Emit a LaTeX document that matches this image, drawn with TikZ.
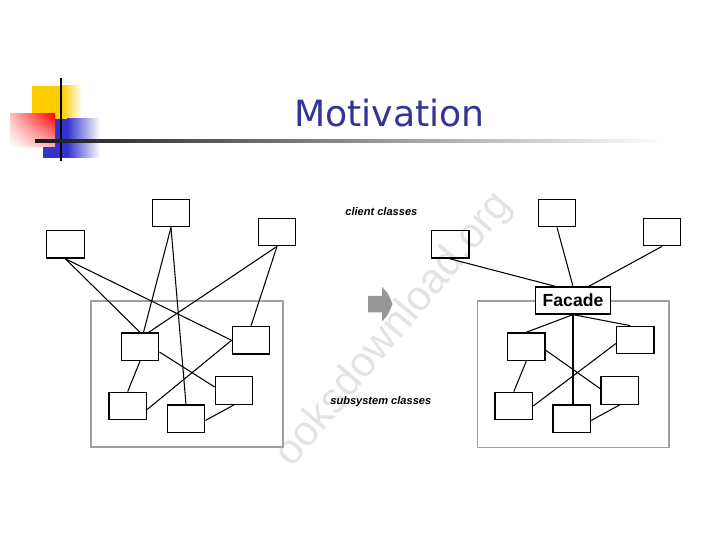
\documentclass[tikz,border=0pt]{standalone}
\usepackage{fontspec}
\usepackage{tikz}
\usetikzlibrary{shadings}
\newfontfamily\titlefont{DejaVu Sans}
\newfontfamily\labelfont{Liberation Sans}
\definecolor{titleblue}{RGB}{51,51,153}
\definecolor{logoyellow}{RGB}{255,204,0}
\definecolor{logoblue}{RGB}{51,51,204}
\definecolor{framegray}{RGB}{160,160,160}
\definecolor{arrowgray}{RGB}{150,150,150}

\begin{document}
\begin{tikzpicture}[x=0.02cm,y=-0.02cm,
    cls/.style={draw,line width=0.8pt,minimum width=21.3pt,minimum height=15.6pt,inner sep=0pt},
    link/.style={line width=0.6pt},
    frame/.style={draw=framegray,line width=0.6pt},
    caption/.style={font=\labelfont\bfseries\itshape\fontsize{6.3}{7}\selectfont,inner sep=0pt}]
        \useasboundingbox (0,0) rectangle (720,540);
        % watermark
        \node[rotate=50,text=black!11,font=\labelfont\fontsize{24}{28}\selectfont] (mark) at (394,330) {ooksdownload.org};
        % logo
        \fill[logoyellow] (32,86) rectangle (62,119);
        \shade[left color=logoyellow,right color=white] (62,86) rectangle (82,119);
        \fill[logoblue] (43,119) rectangle (67,158);
        \shade[left color=logoblue,right color=white] (67,119) rectangle (100,158);
        \shade[upper right=red,upper left=red!25,lower right=red!30,lower left=white] (10,114) rectangle (55,147);
        \draw[line width=1.4pt] (61,78) -- (61,161);
        \shade[left color=black!90,right color=white] (35,140) rectangle (665,143);
        \node[font=\titlefont\fontsize{20.6}{24}\selectfont,text=titleblue,anchor=base,inner sep=0pt] (title) at (389.5,126.7) {Motivation};

        % without facade
        \draw[frame] (91,301) rectangle (283,447);
        \node[cls] (cl1) at (65.5,244.5) {};
        \node[cls] (cl2) at (171,213) {};
        \node[cls] (cl3) at (277,232) {};
        \node[cls] (ss1) at (140,346.7) {};
        \node[cls] (ss2) at (251,340.3) {};
        \node[cls] (ss3) at (127.7,406) {};
        \node[cls] (ss4) at (186,418.7) {};
        \node[cls] (ss5) at (234,390.5) {};
        \draw[link] (cl1.south) -- (ss1.north);
        \draw[link] (cl1.south) -- (ss2.west);
        \draw[link] (cl2.south) -- ([xshift=2]ss1.north);
        \draw[link] (cl2.south) -- (ss4.north);
        \draw[link] (cl3.south) -- ([xshift=5]ss1.north);
        \draw[link] (cl3.south) -- (ss2.north);
        \draw[link] ([yshift=-3]ss1.east) -- ([yshift=2]ss5.west);
        \draw[link] (ss1.south) -- (ss3.north);
        \draw[link] (ss2.west) -- ([yshift=-2]ss3.east);
        \draw[link] (ss5.south) -- ([yshift=-1]ss4.east);

        % labels and arrow
        \node[caption,anchor=west] (client) at (345,211.5) {client classes};
        \node[caption,anchor=west] (subsys) at (330,401.5) {subsystem classes};
        \fill[arrowgray] (368,296) -- (382,296) -- (382,287) .. controls (388,293) .. (392.5,304)
            .. controls (388,315) .. (382,321.5) -- (382,312.5) -- (368,312.5) -- cycle;

        % with facade
        \draw[frame] (477.7,301) rectangle (669,447.3);
        \node[cls] (cr1) at (450.3,244.5) {};
        \node[cls] (cr2) at (557,213) {};
        \node[cls] (cr3) at (662,232) {};
        \node[draw,fill=white,line width=0.8pt,minimum width=43pt,minimum height=15.3pt,inner sep=0pt,
            font=\labelfont\bfseries\fontsize{10}{12}\selectfont] (facade) at (573,300.5) {Facade};
        \node[cls] (rs1) at (526.3,346.7) {};
        \node[cls] (rs2) at (635.3,340) {};
        \node[cls] (rs3) at (513.8,406) {};
        \node[cls] (rs4) at (571.7,418.7) {};
        \node[cls] (rs5) at (619.7,390.5) {};
        \draw[link] (cr1.south) -- ([xshift=-10]facade.north);
        \draw[link] (cr2.south) -- (facade.north);
        \draw[link] (cr3.south) -- ([xshift=9]facade.north);
        \draw[link] (facade.south) -- (rs1.north);
        \draw[link] (facade.south) -- ([xshift=-3]rs2.north);
        \draw[link] (facade.south) -- (facade.south |- rs4.north);
        \draw[link] ([yshift=-2]rs1.east) -- ([yshift=1]rs5.west);
        \draw[link] (rs1.south) -- (rs3.north);
        \draw[link] ([yshift=-2]rs2.west) -- (rs3.east);
        \draw[link] (rs5.south) -- ([yshift=-1]rs4.east);
    \end{tikzpicture}
\end{document}
